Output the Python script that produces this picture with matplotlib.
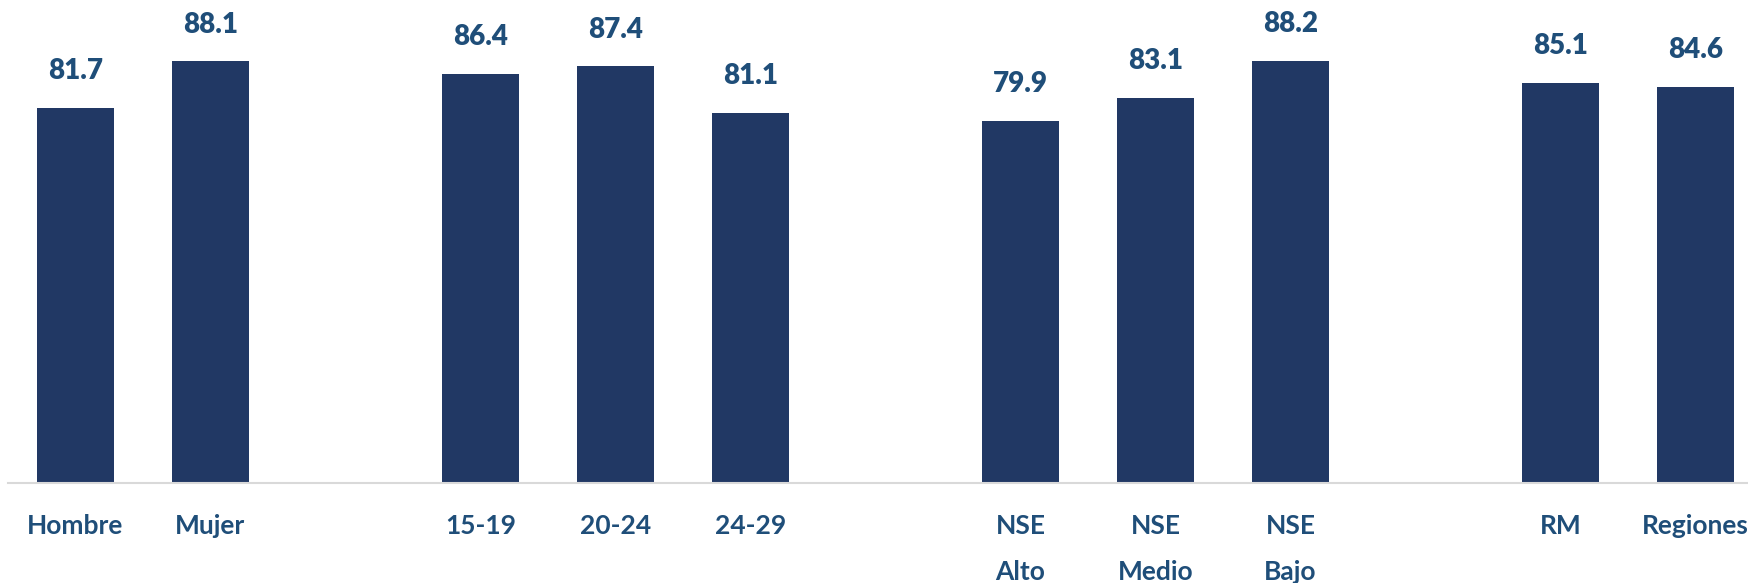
import matplotlib
matplotlib.use("Agg")
import matplotlib.pyplot as plt

plt.rcParams["font.family"] = ["Lato", "DejaVu Sans"]

# Categories, grouped with an empty slot between groups
labels = ["Hombre", "Mujer",
          "15-19", "20-24", "24-29",
          "NSE\nAlto", "NSE\nMedio", "NSE\nBajo",
          "RM", "Regiones"]
values = [81.7, 88.1, 86.4, 87.4, 81.1, 79.9, 83.1, 88.2, 85.1, 84.6]
slots = [0, 1, 3, 4, 5, 7, 8, 9, 11, 12]

bar_color = "#213864"
text_color = "#1F4E79"

fig = plt.figure(figsize=(17.48, 5.83), dpi=100)
ax = fig.add_axes([8 / 1748, 100 / 583, 1740 / 1748, 483 / 583])

bars = ax.bar(slots, values, width=0.57, color=bar_color, zorder=2)

for x, v in zip(slots, values):
    ax.annotate(f"{v:.1f}", (x, v), xytext=(0, 26.5), textcoords="offset points",
                ha="center", va="center", fontsize=20, fontweight=800,
                color=text_color)

ax.set_xlim(-0.5, 12.39)
ax.set_ylim(30.4, 96.5)

ax.set_xticks(slots)
ax.set_xticklabels(labels, fontsize=19, fontweight=700, color=text_color,
                   linespacing=2.1)
ax.tick_params(axis="x", length=0, pad=22)
ax.set_yticks([])

for side in ["top", "right", "left"]:
    ax.spines[side].set_visible(False)
ax.spines["bottom"].set_color("#D9D9D9")
ax.spines["bottom"].set_linewidth(1.5)

fig.savefig("out.png", dpi=100)
